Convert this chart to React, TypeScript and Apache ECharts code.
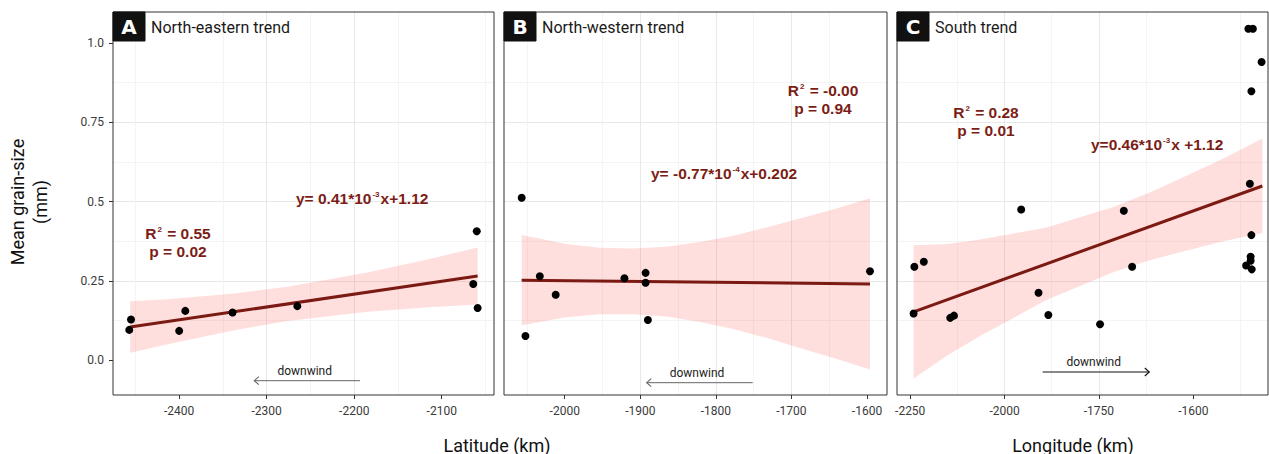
import React, { useEffect, useRef } from "react";
import * as echarts from "echarts";

// ---------------- data ----------------
const yTickValues = [0, 0.25, 0.5, 0.75, 1.0];
const yTickLabels = ["0.0", "0.25", "0.5", "0.75", "1.0"];
const xTicksA = [-2400, -2300, -2200, -2100];
const xTickLabelsA = ["-2400", "-2300", "-2200", "-2100"];
const xTicksB = [-2000, -1900, -1800, -1700, -1600];
const xTickLabelsB = ["-2000", "-1900", "-1800", "-1700", "-1600"];
const xTicksC = [-2250, -2000, -1750, -1500];
const xTickLabelsC = ["-2250", "-2000", "-1750", "-1600"];

// Panel A – North-eastern trend
const aX = [-2457, -2455, -2400, -2393, -2339, -2265, -2064, -2060, -2059];
const aY = [0.095, 0.128, 0.092, 0.155, 0.15, 0.17, 0.24, 0.406, 0.164];
const fitAX = [-2456, -2059];
const fitAY = [0.104, 0.265];
const bandAX = [-2456, -2413, -2337, -2276, -2185, -2110, -2059];
const bandALo = [0.023, 0.05, 0.094, 0.123, 0.152, 0.167, 0.175];
const bandAHi = [0.185, 0.192, 0.21, 0.231, 0.276, 0.321, 0.355];

// Panel B – North-western trend
const bX = [-2057, -2052, -2033, -2012, -1921, -1893, -1893, -1890, -1596];
const bY = [0.512, 0.076, 0.264, 0.206, 0.258, 0.275, 0.244, 0.126, 0.28];
const fitBX = [-2057, -1596];
const fitBY = [0.252, 0.24];
const bandBX = [-2057, -1998, -1954, -1910, -1865, -1821, -1777, -1733, -1689, -1645, -1596];
const bandBLo = [0.11, 0.135, 0.144, 0.144, 0.137, 0.12, 0.098, 0.07, 0.038, 0.007, -0.03];
const bandBHi = [0.394, 0.366, 0.354, 0.352, 0.357, 0.372, 0.392, 0.418, 0.446, 0.475, 0.51];

// Panel C – South trend
const cX = [-1354, -1342, -1319, -1346, -1350, -1346, -1348, -1348, -1360, -1345, -1662, -1684, -1956, -1910, -1884, -1747, -2239, -2214, -2241, -2144, -2134];
const cY = [1.045, 1.045, 0.94, 0.848, 0.556, 0.394, 0.326, 0.313, 0.298, 0.286, 0.294, 0.471, 0.475, 0.212, 0.142, 0.113, 0.294, 0.31, 0.147, 0.133, 0.14];
const fitCX = [-2241, -1317];
const fitCY = [0.152, 0.549];
const bandCX = [-2241, -2150, -2065, -1888, -1712, -1620, -1535, -1420, -1317];
const bandCLo = [-0.058, 0.016, 0.076, 0.19, 0.277, 0.313, 0.34, 0.375, 0.401];
const bandCHi = [0.362, 0.366, 0.38, 0.418, 0.483, 0.526, 0.572, 0.636, 0.699];

// ---------------- styling ----------------
const FONT = 'Roboto, "DejaVu Sans", sans-serif';
const ANN_FONT = '"Liberation Sans", Arial, sans-serif';
const RED = "#7b1d16";
const LINE_RED = "#7a1a12";
const BAND = "rgba(255, 60, 60, 0.17)";

const Y_UNIT = 0.25; // axis unit for y (one tick step)
const panels = [
  { left: 113, top: 12, width: 381, height: 383, xMin: -2475.6, xMax: -2040.3, xUnit: 1, ticks: xTicksA, labels: xTickLabelsA },
  { left: 504, top: 12, width: 383, height: 383, xMin: -2080.4, xMax: -1573.5, xUnit: 1, ticks: xTicksB, labels: xTickLabelsB },
  { left: 897, top: 12, width: 371, height: 383, xMin: -2285, xMax: -1302, xUnit: 2.5, ticks: xTicksC, labels: xTickLabelsC },
];
const Y_MIN = -0.1103;
const Y_MAX = 1.0977;

function matchLabel(values: number[], labels: string[], v: number) {
  const i = values.findIndex((t) => Math.abs(t - v) < 1e-6);
  return i >= 0 ? labels[i] : "";
}

function buildOption() {
  const grid = panels.map((p) => ({
    left: p.left,
    top: p.top,
    width: p.width,
    height: p.height,
    show: false,
    containLabel: false,
    outerBoundsMode: "none",
  }));

  const xAxis = panels.map((p, gi) => {
    const tv = p.ticks.map((t) => t / p.xUnit);
    return {
      type: "value",
      gridIndex: gi,
      position: "bottom",
      min: p.xMin / p.xUnit,
      max: p.xMax / p.xUnit,
      splitNumber: 5,
      axisLine: { show: false, onZero: false },
      axisTick: { show: true, length: 4, customValues: tv, lineStyle: { color: "#333", width: 1 } },
      axisLabel: {
        show: true,
        customValues: tv,
        margin: 10,
        color: "#3a3a3a",
        fontSize: 12,
        fontFamily: FONT,
        formatter: (v: number) => matchLabel(tv, p.labels, v),
      },
      splitLine: { show: true, showMinLine: false, showMaxLine: false, lineStyle: { color: "#e8e8e8", width: 1 } },
      minorTick: { show: false, splitNumber: 2 },
      minorSplitLine: { show: true, lineStyle: { color: "#f1f1f1", width: 0.8 } },
    };
  });

  const ytv = yTickValues.map((t) => t / Y_UNIT);
  const yAxis = panels.map((p, gi) => ({
    type: "value",
    gridIndex: gi,
    position: "left",
    min: Y_MIN / Y_UNIT,
    max: Y_MAX / Y_UNIT,
    splitNumber: 5,
    axisLine: { show: false, onZero: false },
    axisTick: { show: gi === 0, length: 4, customValues: ytv, lineStyle: { color: "#333", width: 1 } },
    axisLabel: {
      show: gi === 0,
      customValues: ytv,
      margin: 9,
      color: "#3a3a3a",
      fontSize: 12,
      fontFamily: FONT,
      formatter: (v: number) => matchLabel(ytv, yTickLabels, v),
    },
    splitLine: { show: true, showMinLine: false, showMaxLine: false, lineStyle: { color: "#e8e8e8", width: 1 } },
    minorTick: { show: false, splitNumber: 2 },
    minorSplitLine: { show: true, lineStyle: { color: "#f1f1f1", width: 0.8 } },
  }));

  const sets = [
    { px: aX, py: aY, fx: fitAX, fy: fitAY, bx: bandAX, lo: bandALo, hi: bandAHi },
    { px: bX, py: bY, fx: fitBX, fy: fitBY, bx: bandBX, lo: bandBLo, hi: bandBHi },
    { px: cX, py: cY, fx: fitCX, fy: fitCY, bx: bandCX, lo: bandCLo, hi: bandCHi },
  ];

  const series: any[] = [];
  sets.forEach((s, i) => {
    const u = panels[i].xUnit;
    const bandData = s.bx.map((x, k) => [x / u, s.lo[k] / Y_UNIT, s.hi[k] / Y_UNIT]);
    series.push({
      type: "custom",
      xAxisIndex: i,
      yAxisIndex: i,
      silent: true,
      z: 1,
      clip: false,
      encode: { x: 0, y: [1, 2] },
      data: bandData,
      renderItem: (params: any, api: any) => {
        if (params.dataIndex !== 0) return { type: "group", children: [] };
        const top = bandData.map((d) => api.coord([d[0], d[2]]));
        const bot = bandData.map((d) => api.coord([d[0], d[1]])).reverse();
        return {
          type: "polygon",
          shape: { points: top.concat(bot) },
          style: { fill: BAND, stroke: "none" },
        };
      },
    });
    series.push({
      type: "line",
      xAxisIndex: i,
      yAxisIndex: i,
      symbol: "none",
      z: 3,
      silent: true,
      lineStyle: { color: LINE_RED, width: 3 },
      data: s.fx.map((x, k) => [x / u, s.fy[k] / Y_UNIT]),
    });
    series.push({
      type: "scatter",
      xAxisIndex: i,
      yAxisIndex: i,
      symbolSize: 8,
      z: 4,
      clip: false,
      itemStyle: { color: "#000", opacity: 1 },
      data: s.px.map((x, k) => [x / u, s.py[k] / Y_UNIT]),
    });
  });

  // ---------- graphic annotations ----------
  const rich = {
    n: { fontSize: 15.5, fontWeight: "bold", fontFamily: ANN_FONT, fill: RED, lineHeight: 18 },
    s: { fontSize: 8, fontWeight: "bold", fontFamily: ANN_FONT, fill: RED, lineHeight: 18, verticalAlign: "top", padding: [1, 1, 0, 1] },
  };
  const ann = (x: number, y: number, text: string, align = "left") => ({
    type: "text",
    x,
    y,
    z: 60,
    silent: true,
    style: { text, rich, align, verticalAlign: "middle", textAlign: align, textVerticalAlign: "middle" },
  });
  const plain = (x: number, y: number, text: string, size: number, color: string, align = "left", extra: any = {}) => ({
    type: "text",
    x,
    y,
    z: 60,
    silent: true,
    ...extra,
    style: {
      text,
      fontSize: size,
      fontFamily: FONT,
      fill: color,
      align,
      verticalAlign: "middle",
      textAlign: align,
      textVerticalAlign: "middle",
      ...(extra.style || {}),
    },
  });

  const strips = [
    { letter: "A", title: "North-eastern trend" },
    { letter: "B", title: "North-western trend" },
    { letter: "C", title: "South trend" },
  ];

  const graphics: any[] = [];
  panels.forEach((p, i) => {
    graphics.push({
      type: "rect",
      z: 50,
      silent: true,
      shape: { x: p.left, y: p.top, width: p.width, height: p.height },
      style: { fill: "none", stroke: "#333", lineWidth: 1 },
    });
    graphics.push({
      type: "rect",
      z: 55,
      silent: true,
      shape: { x: p.left, y: p.top, width: 32, height: 29 },
      style: { fill: "#111", stroke: "#111", lineWidth: 1 },
    });
    graphics.push({
      type: "text",
      x: p.left + 16,
      y: p.top + 15,
      z: 60,
      silent: true,
      style: {
        text: strips[i].letter,
        fontSize: 20,
        fontWeight: "bold",
        fontFamily: '"DejaVu Sans", Roboto, sans-serif',
        fill: "#fff",
        align: "center",
        verticalAlign: "middle",
        textAlign: "center",
        textVerticalAlign: "middle",
      },
    });
    graphics.push(plain(p.left + 38, p.top + 15, strips[i].title, 16, "#1a1a1a"));
  });

  // regression annotations
  graphics.push(ann(296, 198, "{n|y= 0.41*10}{s|-3}{n|x+1.12}"));
  graphics.push(ann(178, 233, "{n|R}{s|2}{n| = 0.55}", "center"));
  graphics.push(ann(178, 251, "{n|p = 0.02}", "center"));

  graphics.push(ann(823, 90, "{n|R}{s|2}{n| = -0.00}", "center"));
  graphics.push(ann(823, 108.7, "{n|p = 0.94}", "center"));
  graphics.push(ann(651, 173.3, "{n|y= -0.77*10}{s|-4}{n|x+0.202}"));

  graphics.push(ann(986, 112.7, "{n|R}{s|2}{n| = 0.28}", "center"));
  graphics.push(ann(986, 130.7, "{n|p = 0.01}", "center"));
  graphics.push(ann(1091, 144, "{n|y=0.46*10}{s|-3}{n|x +1.12}"));

  // downwind arrows
  const arrow = (x1: number, x2: number, y: number, color: string) => {
    const dir = x2 > x1 ? 1 : -1;
    graphics.push({
      type: "line",
      z: 60,
      silent: true,
      shape: { x1, y1: y, x2, y2: y },
      style: { stroke: color, lineWidth: 1 },
    });
    graphics.push({
      type: "polyline",
      z: 60,
      silent: true,
      shape: { points: [[x2 - dir * 4.5, y - 4], [x2, y], [x2 - dir * 4.5, y + 4]] },
      style: { stroke: color, lineWidth: 1.1, fill: "none" },
    });
  };
  arrow(360, 254.3, 380.7, "#666");
  graphics.push(plain(304.7, 370.7, "downwind", 12, "#222", "center"));
  arrow(752.7, 646.7, 382.7, "#666");
  graphics.push(plain(697, 372.7, "downwind", 12, "#222", "center"));
  arrow(1042.7, 1149.3, 372, "#111");
  graphics.push(plain(1093.7, 362, "downwind", 12, "#222", "center"));

  // axis titles
  graphics.push(plain(17.5, 202, "Mean grain-size", 18, "#111", "center", { rotation: Math.PI / 2 }));
  graphics.push(plain(40, 202, "(mm)", 18, "#111", "center", { rotation: Math.PI / 2 }));
  graphics.push(plain(497, 445, "Latitude (km)", 18, "#111", "center"));
  graphics.push(plain(1073, 445, "Longitude (km)", 18, "#111", "center"));

  return {
    animation: false,
    backgroundColor: "#fff",
    grid,
    xAxis,
    yAxis,
    series,
    graphic: { elements: graphics },
  };
}

export default function App() {
  const ref = useRef<HTMLDivElement>(null);
  useEffect(() => {
    document.body.style.margin = "0";
    if (!ref.current) return;
    const chart = echarts.init(ref.current, undefined, { renderer: "svg" });
    chart.setOption(buildOption() as any);
    return () => chart.dispose();
  }, []);
  return (
    <div
      ref={ref}
      style={{ position: "absolute", left: 0, top: 0, width: 1269, height: 454, background: "#fff" }}
    />
  );
}
